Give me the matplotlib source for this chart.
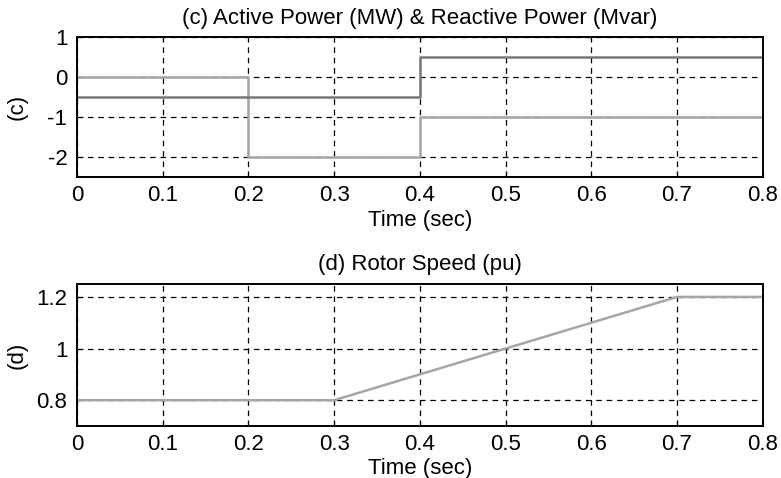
import matplotlib
matplotlib.use("Agg")
import matplotlib.pyplot as plt

plt.rcParams['font.family'] = ['Liberation Sans', 'DejaVu Sans']

# (c) active / reactive power, step data
t_p = [0, 0.2, 0.2, 0.4, 0.4, 0.8]
p_vals = [0, 0, -2, -2, -1, -1]
t_q = [0, 0.4, 0.4, 0.8]
q_vals = [-0.5, -0.5, 0.5, 0.5]

# (d) rotor speed
t_w = [0, 0.3, 0.7, 0.8]
w_vals = [0.8, 0.8, 1.2, 1.2]

x_ticks = [0, 0.1, 0.2, 0.3, 0.4, 0.5, 0.6, 0.7, 0.8]
x_labels = ['0', '0.1', '0.2', '0.3', '0.4', '0.5', '0.6', '0.7', '0.8']

FS = 16


def style(ax, yticks, ylim, ylabel, title, xlab_y):
	ax.set_xlim(0, 0.8)
	ax.set_ylim(*ylim)
	ax.set_xticks(x_ticks)
	ax.set_xticklabels(x_labels)
	ax.set_yticks(yticks)
	ax.grid(True, color='black', linestyle=(0, (4.5, 3.8)), linewidth=0.9)
	ax.tick_params(direction='in', length=4, labelsize=FS)
	ax.tick_params(axis='x', pad=6)
	ax.tick_params(axis='y', pad=7)
	for s in ax.spines.values():
		s.set_linewidth(1.4)
	ax.set_ylabel(ylabel, fontsize=FS)
	ax.yaxis.set_label_coords(-0.072, 0.5)
	ax.set_xlabel('Time (sec)', fontsize=FS)
	ax.xaxis.set_label_coords(0.5, xlab_y)
	ax.text(0.5, 1.135, title, fontsize=FS, ha='center', va='center', transform=ax.transAxes)


fig = plt.figure(figsize=(7.81, 4.78), dpi=100)
ax1 = fig.add_axes([0.0986, 0.6297, 0.878, 0.293])
ax2 = fig.add_axes([0.0986, 0.1088, 0.878, 0.297])

ax1.plot(t_p, p_vals, color='#a6a6a6', linewidth=1.8)
ax1.plot(t_q, q_vals, color='#787878', linewidth=1.8)
style(ax1, [-2, -1, 0, 1], (-2.5, 1), '(c)', '(c) Active Power (MW) & Reactive Power (Mvar)', -0.235)
ax1.set_yticklabels(['-2', '-1', '0', '1'])

ax2.plot(t_w, w_vals, color='#a6a6a6', linewidth=1.8)
style(ax2, [0.8, 1.0, 1.2], (0.7, 1.25), '(d)', '(d) Rotor Speed (pu)', -0.222)
ax2.set_yticklabels(['0.8', '1', '1.2'])

fig.savefig('out.png', dpi=100)
